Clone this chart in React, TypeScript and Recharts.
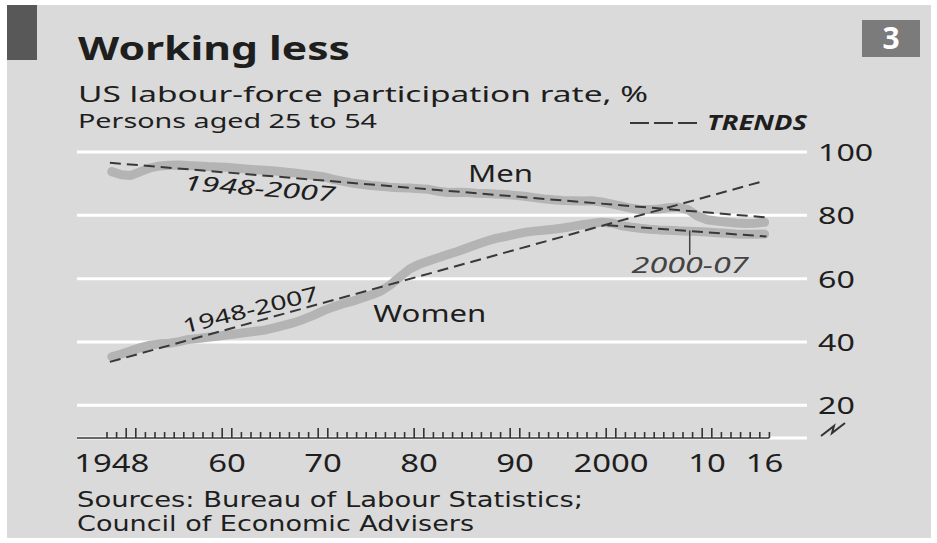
import { CartesianGrid, Line, LineChart, ReferenceDot, ReferenceLine, XAxis, YAxis } from 'recharts';

const FONT = '"Noto Sans", "Open Sans", sans-serif';
const FOOT_FONT = '"DejaVu Sans", sans-serif';
const INK = '#1e1e1e';
const BAND = '#b4b4b4';
const DASH = '#383838';

// annual readings, 1948 onwards
const firstYear = 1948;
const menRate = [
  93.8, 92.8, 92.6, 93.8, 95.0, 95.6, 95.8, 95.9, 95.7, 95.6, 95.4, 95.3,
  95.2, 94.9, 94.6, 94.4, 94.2, 94.0, 93.7, 93.4, 93.0, 92.6,
  92.2, 91.4, 90.8, 90.2, 89.8, 89.4, 89.2, 88.9, 88.7, 88.6,
  88.4, 88.2, 87.6, 87.2, 87.3, 87.2, 87.0, 86.9, 86.7, 86.6,
  86.3, 86.0, 85.6, 85.2, 84.9, 84.7, 84.6, 84.5, 84.6, 84.2,
  83.6, 83.0, 82.3, 81.8, 81.8, 82.0, 82.4, 82.6, 81.8, 79.8,
  78.6, 78.2, 77.9, 77.6, 77.4, 77.5, 77.8,
];
const womenRate = [
  35.3, 36.2, 37.2, 38.2, 39.0, 39.4, 39.6, 40.1, 40.8, 41.1, 41.5, 41.8,
  42.2, 42.6, 43.0, 43.4, 43.8, 44.5, 45.3, 46.1, 47.2, 48.4,
  49.8, 51.0, 52.0, 52.8, 53.8, 54.8, 56.0, 58.0, 60.5, 63.0,
  64.5, 65.6, 66.6, 67.6, 68.6, 69.7, 70.8, 71.8, 72.7, 73.3,
  74.0, 74.6, 75.0, 75.3, 75.6, 76.0, 76.5, 77.0, 77.4, 77.8,
  77.6, 76.8, 76.3, 75.9, 75.6, 75.4, 75.3, 75.1, 75.0, 74.9,
  74.7, 74.5, 74.3, 74.1, 74.0, 74.0, 74.1,
];

// straight-line trends, read at their two ends
const longTrendYears = [1947.8, 2016.0];
const menTrendVals = [96.6, 79.4];
const womenTrendVals = [33.7, 90.9];
const shortTrendYears = [1999.6, 2016.2];
const womenShortTrendVals = [76.9, 73.3];

const labelYears = [1948, 1960, 1970, 1980, 1990, 2000, 2010, 2016];
const yTicks = [20, 40, 60, 80, 100];

const years = menRate.map((_, i) => firstYear + i);
const menData = years.map((year, i) => ({ year, v: menRate[i] }));
const womenData = years.map((year, i) => ({ year, v: womenRate[i] }));
const menTrend = longTrendYears.map((year, i) => ({ year, v: menTrendVals[i] }));
const womenTrend = longTrendYears.map((year, i) => ({ year, v: womenTrendVals[i] }));
const womenShort = shortTrendYears.map((year, i) => ({ year, v: womenShortTrendVals[i] }));

// year boundaries for the small ticks
const boundaries = [...years, years[years.length - 1] + 1].map((y) => y - 0.5);

const X_MIN = 1944.375;
const X_MAX = 2020.417;
const Y_MIN = 9.66;

const XTick = (props: any) => {
  const { x, y, payload } = props;
  const v = payload.value;
  if (Number.isInteger(v)) {
    const s = String(v);
    const txt = v === 1948 || v === 2000 ? s : s.slice(2);
    return (
      <text x={x} y={y + 34} textAnchor="middle" fontFamily={FONT} fontSize={26} fill={INK}
        textLength={txt.length * 18.8} lengthAdjust="spacingAndGlyphs">{txt}</text>
    );
  }
  const starts = v + 0.5;
  const tall = starts % 10 === 0 || starts % 10 === 1;
  return <line x1={x} x2={x} y1={y} y2={y - (tall ? 10 : 6)} stroke="#333" strokeWidth={1.6} />;
};

const YTick = (props: any) => {
  const { x, y, payload } = props;
  const txt = String(payload.value);
  return (
    <text x={x + 11} y={y + 9} fontFamily={FONT} fontSize={24} fill={INK}
      textLength={txt.length * 18.4} lengthAdjust="spacingAndGlyphs">{txt}</text>
  );
};

const note = (txt: string, width: number, size: number, opts: { italic?: boolean; angle?: number; fill?: string } = {}) =>
  (p: any) => (
    <text x={p.cx} y={p.cy} fontFamily={FONT} fontSize={size} fill={opts.fill || INK}
      fontStyle={opts.italic ? 'italic' : 'normal'} textLength={width} lengthAdjust="spacingAndGlyphs"
      transform={opts.angle ? `rotate(${opts.angle} ${p.cx} ${p.cy})` : undefined}>{txt}</text>
  );

export default function App() {
  return (
    <div style={{ position: 'absolute', left: 0, top: 0, width: 937, height: 543, background: '#fff' }}>
      <div style={{ position: 'absolute', left: 7, top: 5, width: 924, height: 533, background: '#dadada' }} />
      <div style={{ position: 'absolute', left: 0, top: 0 }}>
        <LineChart width={937} height={543} margin={{ top: 152, right: 30, bottom: 65, left: 77 }}>
          <CartesianGrid vertical={false} stroke="#fff" strokeWidth={3} />
          <XAxis dataKey="year" type="number" domain={[X_MIN, X_MAX]} allowDataOverflow
            ticks={[...boundaries, ...labelYears]} interval={0} tick={XTick}
            tickLine={false} axisLine={false} tickSize={0} tickMargin={0} height={40} />
          <YAxis orientation="right" type="number" domain={[Y_MIN, 100]} allowDataOverflow
            ticks={yTicks} interval={0} tick={YTick} tickLine={false} axisLine={false}
            tickSize={0} tickMargin={0} width={100} />
          <ReferenceLine segment={[{ x: X_MIN, y: Y_MIN }, { x: 2016.5, y: Y_MIN }]} stroke="#333" strokeWidth={1.6} ifOverflow="visible" />
          <Line data={menData} dataKey="v" type="linear" dot={false} stroke={BAND} strokeWidth={9}
            strokeLinecap="round" strokeLinejoin="round" isAnimationActive={false} />
          <Line data={womenData} dataKey="v" type="linear" dot={false} stroke={BAND} strokeWidth={9}
            strokeLinecap="round" strokeLinejoin="round" isAnimationActive={false} />
          <Line data={menTrend} dataKey="v" type="linear" dot={false} stroke={DASH} strokeWidth={2}
            strokeDasharray="11 6" isAnimationActive={false} />
          <Line data={womenTrend} dataKey="v" type="linear" dot={false} stroke={DASH} strokeWidth={2}
            strokeDasharray="11 6" isAnimationActive={false} />
          <Line data={womenShort} dataKey="v" type="linear" dot={false} stroke={DASH} strokeWidth={2}
            strokeDasharray="11 6" isAnimationActive={false} />
          <ReferenceLine segment={[{ x: 2008.2, y: 75.2 }, { x: 2008.2, y: 67.5 }]} stroke="#444" strokeWidth={1.5} />
          <ReferenceDot x={1985.1} y={90.6} r={0} shape={note('Men', 65, 23.5)} />
          <ReferenceDot x={1975.24} y={46.4} r={0} shape={note('Women', 113, 23.5)} />
          <ReferenceDot x={1955.45} y={88.0} r={0} shape={note('1948-2007', 152, 21, { italic: true, angle: 4.4 })} />
          <ReferenceDot x={1955.6} y={42.7} r={0} shape={note('1948-2007', 139, 20, { angle: -14 })} />
          <ReferenceDot x={2002.15} y={61.7} r={0} shape={note('2000-07', 117, 21, { italic: true, fill: '#444' })} />
        </LineChart>
      </div>
      <svg width={937} height={543} style={{ position: 'absolute', left: 0, top: 0, pointerEvents: 'none' }}>
        <rect x={7} y={5} width={30} height={55} fill="#585858" />
        <rect x={862} y={20} width={58} height={37} fill="#7b7b7b" />
        <text x={891} y={48.5} textAnchor="middle" fontFamily={FONT} fontSize={30} fontWeight="bold" fill="#fff">3</text>
        <text x={78} y={60} fontFamily={FONT} fontSize={32} fontWeight="bold" fill={INK}
          textLength={272} lengthAdjust="spacingAndGlyphs">Working less</text>
        <text x={78} y={101.5} fontFamily={FONT} fontSize={22.5} fill={INK}
          textLength={570} lengthAdjust="spacingAndGlyphs">US labour-force participation rate, %</text>
        <text x={78} y={128} fontFamily={FONT} fontSize={20} fill={INK}
          textLength={299} lengthAdjust="spacingAndGlyphs">Persons aged 25 to 54</text>
        <line x1={630} x2={700} y1={123} y2={123} stroke={DASH} strokeWidth={2} strokeDasharray="19 5" />
        <text x={707} y={130} fontFamily={FONT} fontSize={21} fontWeight="bold" fontStyle="italic" fill={INK}
          textLength={100} lengthAdjust="spacingAndGlyphs">TRENDS</text>
        <path d="M821 436 L834 426 L832 433 L845 423" fill="none" stroke="#333" strokeWidth={2} />
        <text x={77} y={506.5} fontFamily={FOOT_FONT} fontSize={20.5} fill={INK}
          textLength={506} lengthAdjust="spacingAndGlyphs">Sources: Bureau of Labour Statistics;</text>
        <text x={77} y={531} fontFamily={FOOT_FONT} fontSize={20.5} fill={INK}
          textLength={397} lengthAdjust="spacingAndGlyphs">Council of Economic Advisers</text>
      </svg>
    </div>
  );
}
